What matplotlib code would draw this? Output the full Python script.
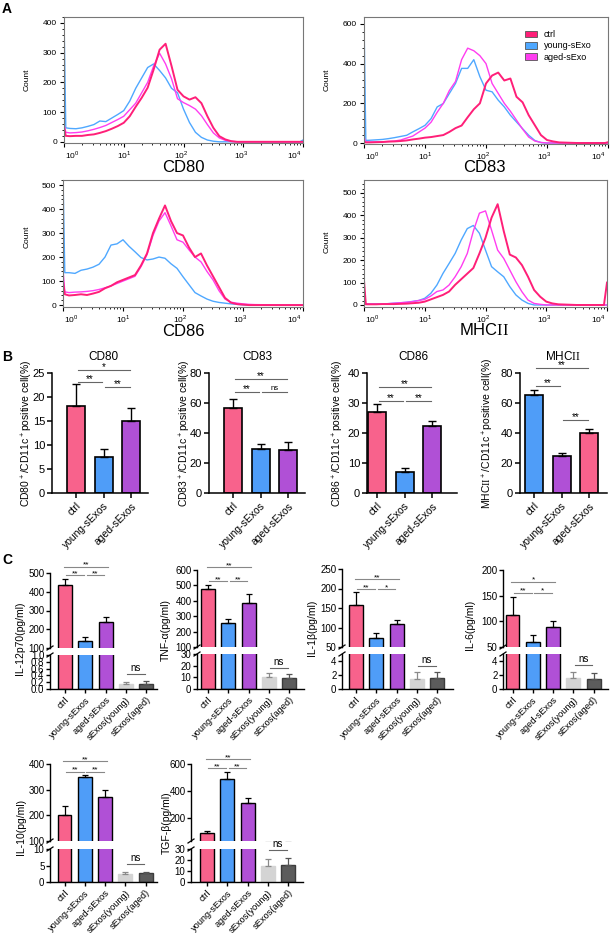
import numpy as np
import matplotlib
matplotlib.use("Agg")
import matplotlib.pyplot as plt
from matplotlib.ticker import MultipleLocator, LogLocator, NullFormatter
from matplotlib.patches import Patch
from matplotlib.lines import Line2D

plt.rcParams['font.family'] = ['Liberation Sans', 'DejaVu Sans']
plt.rcParams['mathtext.fontset'] = 'custom'
plt.rcParams['mathtext.rm'] = 'Liberation Sans'
# serif face used only for the roman numeral in "MHC II"
plt.rcParams['mathtext.tt'] = 'Liberation Serif'

NARROW = ['Liberation Sans Narrow', 'Liberation Sans', 'DejaVu Sans']

# ---------------- data ----------------
# panel A: flow cytometry histograms, log10 fluorescence bins
log_bins = [0, 0.03, 0.1, 0.2, 0.3, 0.4, 0.5, 0.6, 0.7, 0.8, 0.9, 1.0, 1.1, 1.2, 1.3,
            1.4, 1.5, 1.6, 1.7, 1.8, 1.9, 2.0, 2.1, 2.2, 2.3, 2.4, 2.5, 2.6, 2.7, 2.8,
            2.9, 3.0, 3.1, 3.2, 3.5, 3.95, 4.0]

cd80_ctrl = [50, 20, 19, 20, 20, 23, 25, 30, 36, 44, 53, 64, 86, 118, 148, 182, 243, 310, 330, 255,
             175, 153, 142, 150, 130, 86, 47, 19, 8, 2, 0, 0, 0, 0, 0, 0, 0]
cd80_young = [420, 47, 45, 44, 47, 52, 58, 70, 68, 80, 92, 105, 137, 180, 215, 250, 262, 240, 215, 180,
              165, 110, 65, 32, 15, 6, 2, 0, 0, 0, 0, 0, 0, 0, 0, 0, 6]
cd80_aged = [60, 32, 30, 31, 33, 37, 42, 48, 55, 65, 75, 86, 108, 130, 165, 200, 255, 298, 262, 212,
             145, 132, 122, 110, 88, 58, 30, 13, 5, 2, 0, 0, 0, 0, 0, 0, 0]

cd83_ctrl = [5, 3, 3, 4, 5, 7, 8, 10, 13, 18, 22, 27, 30, 35, 40, 56, 75, 88, 130, 170,
             200, 300, 340, 355, 315, 325, 233, 205, 140, 90, 40, 15, 8, 3, 0, 0, 4]
cd83_young = [620, 13, 14, 16, 18, 22, 27, 33, 39, 56, 72, 89, 123, 182, 199, 250, 300, 376, 376, 420,
              334, 266, 258, 216, 182, 140, 106, 72, 39, 13, 2, 0, 0, 0, 0, 0, 0]
cd83_aged = [30, 5, 5, 6, 6, 8, 10, 15, 25, 35, 55, 75, 105, 155, 200, 265, 310, 420, 478, 465,
             440, 400, 300, 250, 200, 160, 115, 70, 30, 10, 3, 0, 0, 0, 0, 0, 0]

cd86_ctrl = [100, 45, 40, 42, 45, 42, 48, 55, 70, 80, 95, 105, 115, 125, 165, 215, 300, 360, 415, 350,
             300, 290, 240, 200, 215, 165, 120, 75, 30, 10, 4, 2, 0, 0, 0, 0, 0]
cd86_young = [540, 135, 135, 132, 145, 150, 158, 170, 200, 250, 255, 272, 245, 222, 198, 188, 192, 200, 195, 172,
              153, 118, 85, 52, 38, 25, 16, 11, 8, 5, 3, 1, 0, 0, 0, 0, 0]
cd86_aged = [150, 55, 52, 54, 55, 57, 60, 65, 72, 80, 90, 100, 110, 120, 160, 210, 290, 350, 385, 330,
             272, 262, 230, 200, 180, 140, 105, 60, 25, 12, 8, 5, 3, 2, 1, 0, 0]

mhc_ctrl = [110, 3, 3, 3, 4, 4, 4, 5, 6, 8, 10, 15, 25, 35, 45, 60, 90, 115, 140, 165,
            230, 300, 390, 450, 330, 225, 212, 178, 126, 67, 37, 15, 7, 3, 0, 0, 100]
mhc_young = [10, 5, 5, 5, 5, 6, 8, 10, 12, 16, 20, 30, 52, 89, 141, 185, 230, 290, 341, 355,
             320, 245, 171, 148, 126, 82, 45, 22, 7, 0, 0, 0, 0, 0, 0, 0, 0]
mhc_aged = [30, 4, 4, 4, 4, 6, 8, 10, 12, 15, 20, 25, 40, 60, 67, 89, 126, 171, 230, 330,
            410, 420, 334, 245, 208, 156, 104, 59, 22, 7, 3, 0, 0, 0, 0, 0, 0]

hist_legend = ['ctrl', 'young-sExo', 'aged-sExo']
decade_labels = ['$10^{0}$', '$10^{1}$', '$10^{2}$', '$10^{3}$', '$10^{4}$']

# panel B: % positive cells
groups_b = ['ctrl', 'young-sExos', 'aged-sExos']
cd80_mean = [18.2, 7.5, 15.1]
cd80_err = [4.5, 1.6, 2.7]
cd83_mean = [57, 29.5, 29]
cd83_err = [5.5, 3.5, 5]
cd86_mean = [27, 7.1, 22.2]
cd86_err = [2.6, 1.4, 1.9]
mhc_mean = [65.5, 25, 40]
mhc_err = [3.5, 1.5, 2.5]

# panel C: cytokines (pg/ml)
groups_c = ['ctrl', 'young-sExos', 'aged-sExos', 'sExos(young)', 'sExos(aged)']
il12_mean = [435, 135, 240, 0.15, 0.15]
il12_err = [35, 25, 28, 0.07, 0.08]
tnf_mean = [475, 258, 385, 10, 9.5]
tnf_err = [30, 27, 60, 3.5, 3]
il1b_mean = [157, 73, 110, 1.5, 1.6]
il1b_err = [35, 14, 8, 1.0, 0.8]
il6_mean = [113, 60, 88, 1.6, 1.5]
il6_err = [34, 14, 12, 0.9, 0.8]
il10_mean = [200, 348, 272, 2.5, 2.7]
il10_err = [38, 10, 28, 0.4, 0.3]
tgfb_mean = [88, 490, 310, 15, 15.5]
tgfb_err = [15, 52, 38, 6, 6]

MHC = r'MHC$\mathtt{II}$'

# colours
c_ctrl_line, c_young_line, c_aged_line = '#FF1F78', '#4FA8FF', '#FF3DF0'
c_pink, c_blue, c_purple = '#F8628C', '#4F9DF8', '#B050D6'
c_lgray, c_dgray = '#D4D4D4', '#5C5C5C'

W, H = 610, 933
fig = plt.figure(figsize=(6.1, 9.33), dpi=100)


def add_ax(l, t, r, b):
    return fig.add_axes([l / W, 1 - b / H, (r - l) / W, (b - t) / H])


def ftext(x, y, s, **kw):
    fig.text(x / W, 1 - y / H, s, **kw)


def fline(x0, y0, x1, y1, **kw):
    fig.add_artist(Line2D([x0 / W, x1 / W], [1 - y0 / H, 1 - y1 / H],
                          transform=fig.transFigure, **kw))


# ---------------- panel A ----------------
def hist_panel(box, ylim, ystep, yminor, ctrl, young, aged, xlabel, xlab_xy, count_xy):
    ax = add_ax(*box)
    x = 10 ** np.array(log_bins)
    ax.plot(x, young, color=c_young_line, lw=1.0)
    ax.plot(x, aged, color=c_aged_line, lw=1.0)
    ax.plot(x, ctrl, color=c_ctrl_line, lw=1.4)
    ax.set_xscale('log')
    ax.set_xlim(1, 1e4)
    ax.set_ylim(*ylim)
    ax.yaxis.set_major_locator(MultipleLocator(ystep))
    ax.yaxis.set_minor_locator(MultipleLocator(yminor))
    ax.set_xticks([1, 10, 100, 1000, 10000])
    ax.xaxis.set_minor_locator(LogLocator(base=10, subs=np.arange(2, 10), numticks=20))
    ax.xaxis.set_minor_formatter(NullFormatter())
    ax.set_xticklabels([])
    # decade labels sit slightly inside the axis ends, as in the cytometer export
    for fx, lab in zip([0.035, 0.25, 0.49, 0.74, 0.962], decade_labels):
        ax.text(fx, -0.045, lab, transform=ax.transAxes, ha='center', va='top', fontsize=6)
    for s in ax.spines.values():
        s.set_color('#777777')
        s.set_linewidth(0.8)
    ax.tick_params(axis='both', which='major', labelsize=6, length=3, width=0.8, pad=2)
    ax.tick_params(axis='both', which='minor', length=1.5, width=0.6)
    ftext(*xlab_xy, xlabel, fontsize=12, ha='center', va='center')
    ftext(*count_xy, 'Count', fontsize=6, rotation=90, ha='center', va='center', family=NARROW)
    return ax


hist_panel((64, 17, 303, 143), (-4, 420), 100, 20, cd80_ctrl, cd80_young, cd80_aged,
           'CD80', (183, 168), (27, 80))
ax83 = hist_panel((364, 17, 608, 144), (-5, 635), 200, 40, cd83_ctrl, cd83_young, cd83_aged,
                  'CD83', (484, 168), (327, 80))
hist_panel((63, 180, 303, 307), (-8, 521), 100, 20, cd86_ctrl, cd86_young, cd86_aged,
           'CD86', (183, 332), (27, 237))
hist_panel((364, 180, 607, 307), (-9, 558), 100, 20, mhc_ctrl, mhc_young, mhc_aged,
           MHC, (484, 330), (327, 242))

handles = [Patch(facecolor=c, edgecolor='#555555', linewidth=0.6)
           for c in (c_ctrl_line, c_young_line, c_aged_line)]
ax83.legend(handles, hist_legend, loc='upper right', bbox_to_anchor=(600 / W, 1 - 22 / H),
            bbox_transform=fig.transFigure, frameon=False, fontsize=6.5,
            handlelength=1.3, handleheight=0.8, handletextpad=0.8, labelspacing=0.25)


# ---------------- panel B ----------------
def panel_b(left, right, ctrl_x, means, errs, colors, ytop, ystep, title, title_x,
            ylabel, ylab_x, sigs):
    ax = add_ax(left, 373, right, 493)
    pos = np.arange(len(means))
    ax.bar(pos, means, width=0.65, color=colors, edgecolor='black', linewidth=1.2, zorder=2)
    ax.errorbar(pos, means, yerr=[np.zeros(len(errs)), errs], fmt='none', ecolor='black',
                elinewidth=1, capsize=2.8, capthick=1, zorder=3)
    sp = 27.7
    ax.set_xlim(-(ctrl_x - left) / sp, (right - ctrl_x) / sp)
    ax.set_ylim(0, ytop)
    ax.yaxis.set_major_locator(MultipleLocator(ystep))
    ax.set_xticks(pos)
    ax.set_xticklabels(groups_b, rotation=45, ha='right', rotation_mode='anchor', fontsize=7.5)
    for s in ['top', 'right']:
        ax.spines[s].set_visible(False)
    for s in ['left', 'bottom']:
        ax.spines[s].set_linewidth(1.1)
    ax.tick_params(axis='y', labelsize=8, length=3.5, width=1.1, pad=1.5)
    ax.tick_params(axis='x', length=3.5, width=1.1, pad=2)
    for i, j, y, txt in sigs:
        ax.plot([i + 0.06, j - 0.06], [y, y], color='#666666', lw=0.8, clip_on=False)
        ax.annotate(txt, (i / 2 + j / 2, y), xytext=(0, 0.5 if txt == 'ns' else -1.5),
                    textcoords='offset points', ha='center', va='bottom',
                    fontsize=5.5 if txt == 'ns' else 7, annotation_clip=False)
    ftext(title_x, 357, title, fontsize=8.5, ha='center', va='center')
    ftext(ylab_x, 433, ylabel, fontsize=7.5, rotation=90, ha='center', va='center')


panel_b(52, 148, 76, cd80_mean, cd80_err, [c_pink, c_blue, c_purple], 25, 5, 'CD80', 103,
        'CD80$^+$/CD11c$^+$positive cell(%)', 27,
        [(0, 2, 25.6, '*'), (0, 1, 23.2, '**'), (1, 2, 22.1, '**')])
panel_b(209, 305, 233, cd83_mean, cd83_err, [c_pink, c_blue, c_purple], 80, 20, 'CD83', 257,
        'CD83$^+$/CD11c$^+$positive cell(%)', 185,
        [(0, 2, 76, '**'), (0, 1, 67.1, '**'), (1, 2, 67.1, 'ns')])
panel_b(367, 457, 377, cd86_mean, cd86_err, [c_pink, c_blue, c_purple], 40, 10, 'CD86', 413,
        'CD86$^+$/CD11c$^+$positive cell(%)', 338,
        [(0, 2, 35.4, '**'), (0, 1, 30.8, '**'), (1, 2, 30.8, '**')])
panel_b(520, 607, 534, mhc_mean, mhc_err, [c_blue, c_purple, c_pink], 80, 20, MHC, 563,
        r'MHC$\mathtt{II}^+$/CD11c$^+$positive cell(%)', 488,
        [(0, 2, 83.1, '**'), (0, 1, 71.5, '**'), (1, 2, 48.7, '**')])


# ---------------- panel C ----------------
def panel_c(left, right, ctrl_x, up_tb, lo_tb, up_lim, up_ticks, lo_lim, lo_ticks, lo_fmt,
            means, errs, ylabel, ylab_xy, sigs, ns_y):
    sp = 20.3
    xl = (-(ctrl_x - left) / sp, (right - ctrl_x) / sp)
    up = add_ax(left, up_tb[0], right, up_tb[1])
    lo = add_ax(left, lo_tb[0], right, lo_tb[1])
    pos = np.arange(len(means))
    faces = [c_pink, c_blue, c_purple, c_lgray, c_dgray]
    edges = ['black', 'black', 'black', c_lgray, '#3C3C3C']
    ecols = ['black', 'black', 'black', '#8A8A8A', '#555555']
    for ax in (up, lo):
        ax.bar(pos, means, width=0.68, color=faces, edgecolor=edges, linewidth=1.0, zorder=2)
        for k in range(len(means)):
            ax.errorbar(pos[k], means[k], yerr=[[0], [errs[k]]], fmt='none', ecolor=ecols[k],
                        elinewidth=0.9, capsize=2.2, capthick=0.9, zorder=3)
        ax.set_xlim(*xl)
        for s in ['top', 'right']:
            ax.spines[s].set_visible(False)
        for s in ['left', 'bottom']:
            ax.spines[s].set_linewidth(1.0)
        ax.tick_params(axis='y', labelsize=7, length=3, width=1.0, pad=1)
    up.spines['bottom'].set_visible(False)
    up.tick_params(axis='x', bottom=False, labelbottom=False)
    up.set_ylim(*up_lim)
    up.set_yticks(up_ticks)
    lo.set_ylim(*lo_lim)
    lo.set_yticks(lo_ticks)
    lo.set_yticklabels([lo_fmt.format(v) for v in lo_ticks])
    lo.set_xticks(pos)
    lo.set_xticklabels(groups_c, rotation=45, ha='right', rotation_mode='anchor', fontsize=6.7,
                       family=NARROW)
    for ax in (up, lo):
        for t in ax.get_yticklabels():
            t.set_family(NARROW)
    lo.tick_params(axis='x', length=3, width=1.0, pad=1.5)
    # axis break marks
    fline(left - 3, up_tb[1] + 2, left + 3, up_tb[1] - 2, color='black', lw=0.9)
    fline(left - 3, lo_tb[0] + 2, left + 3, lo_tb[0] - 2, color='black', lw=0.9)
    for i, j, y, txt in sigs:
        if j - i > 1:
            x0, x1 = i - 0.05, j + 0.1
        else:
            x0, x1 = i + 0.06, j - 0.06
        up.plot([x0, x1], [y, y], color='#888888', lw=0.8, clip_on=False)
        up.annotate(txt, ((x0 + x1) / 2, y), xytext=(0, -1.5), textcoords='offset points',
                    ha='center', va='bottom', fontsize=6, annotation_clip=False)
    lo.plot([3.06, 3.94], [ns_y, ns_y], color='#666666', lw=0.8, clip_on=False)
    lo.annotate('ns', (3.5, ns_y), xytext=(0, 1), textcoords='offset points',
                ha='center', va='bottom', fontsize=7, annotation_clip=False, family=NARROW)
    ftext(*ylab_xy, ylabel, fontsize=7.5, rotation=90, ha='center', va='center', family=NARROW)


panel_c(50, 157, 65, (573, 648), (655, 689), (100, 500), [100, 200, 300, 400, 500],
        (0, 1.0), [0, 0.2, 0.4, 0.6, 0.8, 1.0], '{:.1f}', il12_mean, il12_err,
        'IL-12p70(pg/ml)', (20, 638),
        [(0, 2, 534, '**'), (0, 1, 489, '**'), (1, 2, 489, '**')], 0.44)
panel_c(197, 304, 208, (570, 647), (654, 689), (100, 600), [100, 200, 300, 400, 500, 600],
        (0, 30), [0, 10, 20, 30], '{:d}', tnf_mean, tnf_err,
        'TNF-α(pg/ml)', (166, 630),
        [(0, 2, 619, '**'), (0, 1, 529, '**'), (1, 2, 529, '**')], 18)
panel_c(342, 453, 356, (569, 647), (654, 689), (50, 250), [50, 100, 150, 200, 250],
        (0, 5), [0, 2, 4], '{:d}', il1b_mean, il1b_err,
        'IL-1β(pg/ml)', (312, 628),
        [(0, 2, 224, '**'), (0, 1, 199, '**'), (1, 2, 199, '*')], 3.3)
panel_c(503, 608, 512.5, (570, 647), (654, 689), (50, 200), [50, 100, 150, 200],
        (0, 5), [0, 2, 4], '{:d}', il6_mean, il6_err,
        'IL-6(pg/ml)', (470, 625),
        [(0, 2, 177, '*'), (0, 1, 156, '**'), (1, 2, 156, '*')], 3.4)
panel_c(50, 157, 64.5, (764, 841), (849, 882), (100, 400), [100, 200, 300, 400],
        (0, 10), [0, 5, 10], '{:d}', il10_mean, il10_err,
        'IL-10(pg/ml)', (21, 827),
        [(0, 2, 412, '**'), (0, 1, 370, '**'), (1, 2, 370, '**')], 5.4)
panel_c(191, 303, 207, (764, 841), (849, 882), (30, 600), [200, 400, 600],
        (0, 30), [0, 10, 20, 30], '{:d}', tgfb_mean, tgfb_err,
        'TGF-β(pg/ml)', (167, 823),
        [(0, 2, 637, '**'), (0, 1, 570, '**'), (1, 2, 570, '**')], 29)

# panel letters
ftext(2, 2, 'A', fontsize=10, fontweight='bold', ha='left', va='top')
ftext(2, 350, 'B', fontsize=10, fontweight='bold', ha='left', va='top')
ftext(2, 553, 'C', fontsize=10, fontweight='bold', ha='left', va='top')

fig.savefig('out.png', dpi=100)
